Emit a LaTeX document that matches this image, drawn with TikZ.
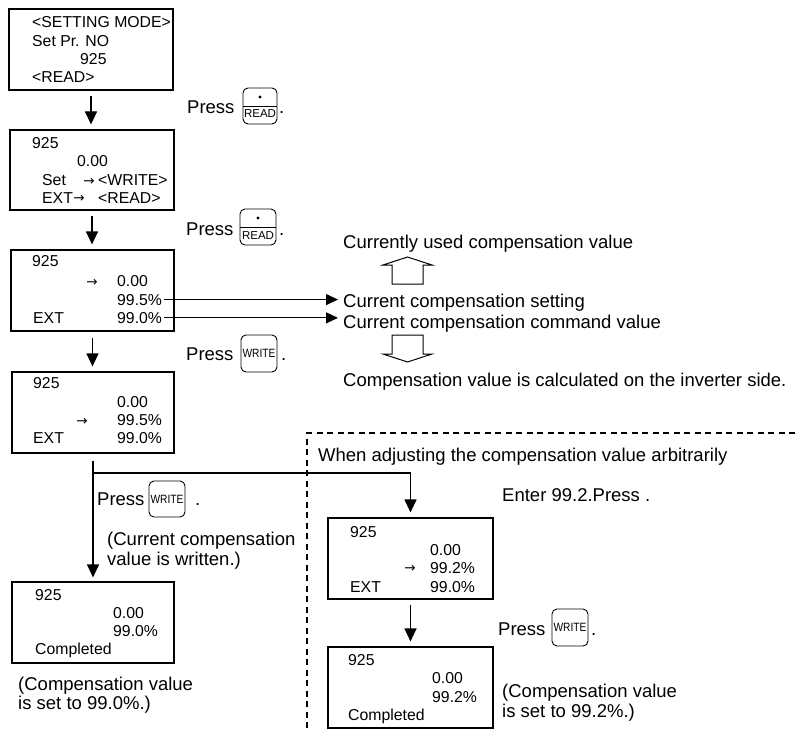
\documentclass[tikz,border=0pt]{standalone}
\usepackage{fontspec}
\setmainfont{Liberation Sans}
\newfontfamily\arrowfont{DejaVu Sans}
\usetikzlibrary{arrows.meta}
\begin{document}
\begin{tikzpicture}[x=1pt,y=-1pt,
 box/.style={draw, line width=1.2pt, inner sep=0pt},
 bt/.style={anchor=base west, inner sep=0pt, font=\fontsize{15.8}{18}\selectfont},
 mt/.style={anchor=base west, inner sep=0pt, font=\fontsize{18.5}{22}\selectfont},
 arw/.style={anchor=center, inner sep=0pt, font=\arrowfont\fontsize{13.5}{14}\selectfont},
 arr/.style={line width=1.2pt, -{Triangle[length=13pt,width=12pt]}},
 sarr/.style={line width=1.1pt, -{Triangle[length=12pt,width=11pt]}},
 key/.style={draw, line width=0.9pt, rounded corners=5pt, inner sep=0pt},
 kt/.style={inner sep=0pt, font=\fontsize{12}{13}\selectfont},
 hollow/.style={draw, line width=1pt, line join=miter},
 dashbox/.style={line width=1.3pt, dash pattern=on 6pt off 4.5pt},
]
\useasboundingbox (0,0) rectangle (795,733);

% boxes
\node[box, minimum width=164pt, minimum height=81pt] (b1) at (91,49.5) {};
\node[box, minimum width=164pt, minimum height=80pt] (b2) at (92,170) {};
\node[box, minimum width=163pt, minimum height=81pt] (b3) at (92.5,290.5) {};
\node[box, minimum width=162pt, minimum height=81pt] (b4) at (93,412.5) {};
\node[box, minimum width=162pt, minimum height=81pt] (b5) at (93,622.5) {};
\node[box, minimum width=165pt, minimum height=81pt] (b6) at (410.5,558.5) {};
\node[box, minimum width=165pt, minimum height=81pt] (b7) at (410.5,687.5) {};

% box 1
\node[bt] (t1a) at (32,28) {<SETTING MODE>};
\node[bt] (t1b) at (32,46.5) {Set Pr. NO};
\node[bt] (t1c) at (80,65) {925};
\node[bt] (t1d) at (32,83) {<READ>};
% box 2
\node[bt] (t2a) at (32,149) {925};
\node[bt] (t2b) at (77,166.7) {0.00};
\node[bt] (t2c) at (42,185.7) {Set};
\node[arw] (a2a) at (89,181.5) {→};
\node[bt] (t2d) at (98,185.7) {<WRITE>};
\node[bt] (t2e) at (42,203) {EXT};
\node[arw] (a2b) at (79,198.8) {→};
\node[bt] (t2f) at (98,203) {<READ>};
% box 3
\node[bt] (t3a) at (32,266.7) {925};
\node[arw] (a3) at (92,282.5) {→};
\node[bt] (t3b) at (117,286.7) {0.00};
\node[bt] (t3c) at (117,305) {99.5\%};
\node[bt] (t3d) at (33,323.3) {EXT};
\node[bt] (t3e) at (117,323.3) {99.0\%};
% box 4
\node[bt] (t4a) at (33,388) {925};
\node[bt] (t4b) at (117,407.3) {0.00};
\node[arw] (a4) at (82,421.5) {→};
\node[bt] (t4c) at (117,425.7) {99.5\%};
\node[bt] (t4d) at (33,443.3) {EXT};
\node[bt] (t4e) at (117,443.3) {99.0\%};
% box 5
\node[bt] (t5a) at (35,600) {925};
\node[bt] (t5b) at (113,618.3) {0.00};
\node[bt] (t5c) at (113,636.7) {99.0\%};
\node[bt] (t5d) at (35,654.5) {Completed};
% box 6
\node[bt] (t6a) at (350,537.3) {925};
\node[bt] (t6b) at (430,555.7) {0.00};
\node[arw] (a6) at (410,569.1) {→};
\node[bt] (t6c) at (430,573.3) {99.2\%};
\node[bt] (t6d) at (350,592.3) {EXT};
\node[bt] (t6e) at (430,592.3) {99.0\%};
% box 7
\node[bt] (t7a) at (348,665.7) {925};
\node[bt] (t7b) at (432,683.3) {0.00};
\node[bt] (t7c) at (432,702.3) {99.2\%};
\node[bt] (t7d) at (348,720) {Completed};

% keys
\node[key, minimum width=34pt, minimum height=36pt] (k1) at (260,106) {};
\draw[line width=0.8pt] (k1.west) -- (k1.east);
\fill ([yshift=9pt]k1.center) circle (1.7pt);
\node[kt, anchor=base, font=\fontsize{11.5}{12}\selectfont] (k1t) at ([yshift=-12pt]k1.center) {READ};

\node[key, minimum width=36pt, minimum height=36pt] (k2) at (258,227) {};
\draw[line width=0.8pt] (k2.west) -- (k2.east);
\fill ([yshift=9pt]k2.center) circle (1.7pt);
\node[kt, anchor=base, font=\fontsize{11.5}{12}\selectfont] (k2t) at ([yshift=-12pt]k2.center) {READ};

\node[key, minimum width=36pt, minimum height=37pt] (k3) at (259,353.5) {};
\node[kt] (k3t) at (k3.center) {\scalebox{0.85}[1]{WRITE}};
\node[key, minimum width=36pt, minimum height=36pt] (k4) at (167,499) {};
\node[kt] (k4t) at (k4.center) {\scalebox{0.85}[1]{WRITE}};
\node[key, minimum width=36pt, minimum height=37pt] (k5) at (570,627.5) {};
\node[kt] (k5t) at (k5.center) {\scalebox{0.85}[1]{WRITE}};

% main texts
\node[mt] (p1) at (187,113.3) {Press};
\node[mt] (d1) at (279,113.3) {.};
\node[mt] (p2) at (186,235) {Press};
\node[mt] (d2) at (279,235) {.};
\node[mt] (p3) at (186,360) {Press};
\node[mt] (d3) at (281,360) {.};
\node[mt] (r1) at (343,248.3) {Currently used compensation value};
\node[mt] (r2) at (343,307.3) {Current compensation setting};
\node[mt] (r3) at (343,328.3) {Current compensation command value};
\node[mt] (r4) at (343,386.7) {Compensation value is calculated on the inverter side.};
\node[mt] (p4) at (97,505) {Press};
\node[mt] (d4) at (195,505) {.};
\node[mt] (n1) at (107,545.6) {(Current compensation};
\node[mt] (n2) at (107,565) {value is written.)};
\node[mt] (n3) at (18,690) {(Compensation value};
\node[mt] (n4) at (18,709) {is set to 99.0\%.)};
\node[mt] (w1) at (318,461.7) {When adjusting the compensation value arbitrarily};
\node[mt] (e1) at (502,501.7) {Enter 99.2.Press .};
\node[mt] (p5) at (498,635) {Press};
\node[mt] (d5) at (591,635) {.};
\node[mt] (n5) at (502,697) {(Compensation value};
\node[mt] (n6) at (502,717) {is set to 99.2\%.)};

% flow arrows
\draw[arr, shorten <=5pt, shorten >=5pt] (b1.south) -- (b1.south |- b2.north);
\draw[arr, shorten <=5pt, shorten >=5pt] (b2.south) -- (b2.south |- b3.north);
\draw[arr, shorten <=6pt, shorten >=5pt] (b3.south) -- (b3.south |- b4.north);
\draw[arr, shorten <=7pt, shorten >=4pt] (b4.south) -- (b4.south |- b5.north);
\coordinate (j) at (93,473);
\draw[arr, shorten >=5pt] (j) -| (b6.north);
\draw[arr, shorten <=5pt, shorten >=5pt] (b6.south) -- (b7.north);

% pointer arrows
\draw[sarr, shorten <=2pt, shorten >=5pt] (t3c.east) -- (t3c.east -| r2.west);
\draw[sarr, shorten <=2pt, shorten >=5pt] (t3e.east) -- (t3e.east -| r3.west);

% hollow arrows
\draw[hollow] (392,284) -- (392,265) -- (383,265) -- (407.5,257) -- (432,265) -- (423,265) -- (423,284) -- cycle;
\draw[hollow] (392,335) -- (423,335) -- (423,354) -- (432,354) -- (407.5,362) -- (383,354) -- (392,354) -- cycle;

% dashed region
\draw[dashbox] (795,433) -- (307,433) -- (307,733);
\end{tikzpicture}
\end{document}
